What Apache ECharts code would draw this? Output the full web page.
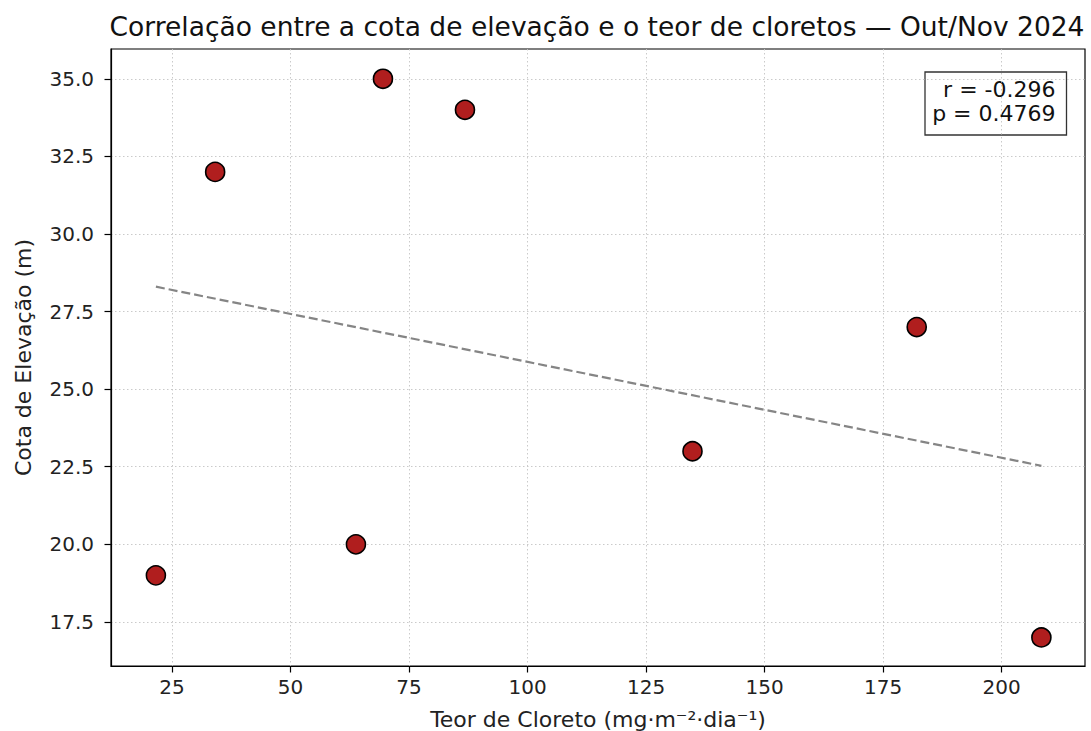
<!DOCTYPE html>
<html>
<head>
<meta charset="utf-8">
<script src="https://cdn.jsdelivr.net/npm/echarts@6/dist/echarts.min.js"></script>
<style>
  html, body { margin: 0; padding: 0; background: #fff; }
  #chart { width: 1091px; height: 731px; }
</style>
</head>
<body>
<div id="chart"></div>
<script>
// Chloride deposition (mg·m⁻²·dia⁻¹) and elevation (m) per sampling point, Oct/Nov 2024
const cloreto = [21.6, 34.1, 63.8, 69.5, 86.8, 134.8, 182.1, 208.4];
const cota = [19, 32, 20, 35, 34, 23, 27, 17];

// Axis ticks
const xTicks = [25, 50, 75, 100, 125, 150, 175, 200];
const yTicks = [17.5, 20.0, 22.5, 25.0, 27.5, 30.0, 32.5, 35.0];

// Pearson statistics shown in the box
const statR = '-0.296';
const statP = '0.4769';

const FONT = 'DejaVu Sans';
const TEXT = '#222';
const TICK_FS = 20;
const LABEL_FS = 22;

// Least-squares fit of elevation on chloride
const n = cloreto.length;
const mx = cloreto.reduce((a, b) => a + b, 0) / n;
const my = cota.reduce((a, b) => a + b, 0) / n;
let sxy = 0, sxx = 0;
for (let i = 0; i < n; i++) {
  sxy += (cloreto[i] - mx) * (cota[i] - my);
  sxx += (cloreto[i] - mx) ** 2;
}
const slope = sxy / sxx;
const intercept = my - slope * mx;
const xMin = Math.min(...cloreto), xMax = Math.max(...cloreto);
const fitLine = [[xMin, intercept + slope * xMin], [xMax, intercept + slope * xMax]];

const points = cloreto.map((x, i) => [x, cota[i]]);

const chart = echarts.init(document.getElementById('chart'), null, { renderer: 'svg' });

const gridLine = { show: true, lineStyle: { color: '#c4c4c4', width: 0.9, type: [1.5, 2.5] } };

chart.setOption({
  backgroundColor: '#fff',
  animation: false,
  textStyle: { fontFamily: FONT },
  grid: {
    left: 111, right: 6, top: 49, bottom: 65,
    containLabel: false, outerBoundsMode: 'none',
    show: true, borderColor: '#000', borderWidth: 1.2, backgroundColor: 'transparent'
  },
  xAxis: {
    type: 'value',
    min: 12.13, max: 217.6,
    name: 'Teor de Cloreto (mg·m⁻²·dia⁻¹)',
    nameLocation: 'middle', nameGap: 42,
    nameTextStyle: { fontSize: LABEL_FS, color: TEXT, fontFamily: FONT },
    axisLine: { show: true, onZero: false, lineStyle: { color: '#000', width: 1.2 } },
    axisTick: { show: true, length: 6.5, inside: false, customValues: xTicks, lineStyle: { color: '#000', width: 1.2 } },
    axisLabel: { show: true, customValues: xTicks, margin: 11, fontSize: TICK_FS, color: TEXT, fontFamily: FONT,
      formatter: v => String(v), showMinLabel: true, showMaxLabel: true },
    splitLine: Object.assign({ customValues: xTicks }, gridLine)
  },
  yAxis: {
    type: 'value',
    min: 16.08, max: 35.96,
    name: 'Cota de Elevação (m)',
    nameLocation: 'middle', nameGap: 77, nameRotate: 90,
    nameTextStyle: { fontSize: LABEL_FS, color: TEXT, fontFamily: FONT },
    axisLine: { show: true, onZero: false, lineStyle: { color: '#000', width: 1.2 } },
    axisTick: { show: true, length: 6.5, inside: false, customValues: yTicks, lineStyle: { color: '#000', width: 1.2 } },
    axisLabel: { show: true, customValues: yTicks, margin: 17, fontSize: TICK_FS, color: TEXT, fontFamily: FONT,
      formatter: v => v.toFixed(1) },
    splitLine: Object.assign({ customValues: yTicks }, gridLine)
  },
  series: [
    {
      type: 'line',
      data: fitLine,
      symbol: 'none',
      silent: true,
      z: 2,
      lineStyle: { color: '#858585', width: 2.2, type: [9, 4] }
    },
    {
      type: 'scatter',
      data: points,
      symbol: 'circle',
      symbolSize: 19,
      z: 3,
      itemStyle: { color: '#b01e1e', borderColor: '#000', borderWidth: 1.6, opacity: 1 }
    }
  ],
  graphic: [
    {
      type: 'text',
      x: 597,
      y: 13,
      style: {
        text: 'Correlação entre a cota de elevação e o teor de cloretos — Out/Nov 2024',
        font: '26.5px "DejaVu Sans"', fill: '#111', align: 'center'
      }
    },
    {
      type: 'group',
      x: 925, y: 72,
      children: [
        {
          type: 'rect',
          shape: { x: 0, y: 0, width: 141.5, height: 63 },
          style: { fill: '#fff', stroke: '#333', lineWidth: 1.3 }
        },
        {
          type: 'text',
          x: 130.5, y: 5,
          style: {
            text: 'r = ' + statR + '\np = ' + statP,
            font: LABEL_FS + 'px "DejaVu Sans"', fill: '#111',
            align: 'right', lineHeight: 24.5
          }
        }
      ]
    }
  ]
});
</script>
</body>
</html>
